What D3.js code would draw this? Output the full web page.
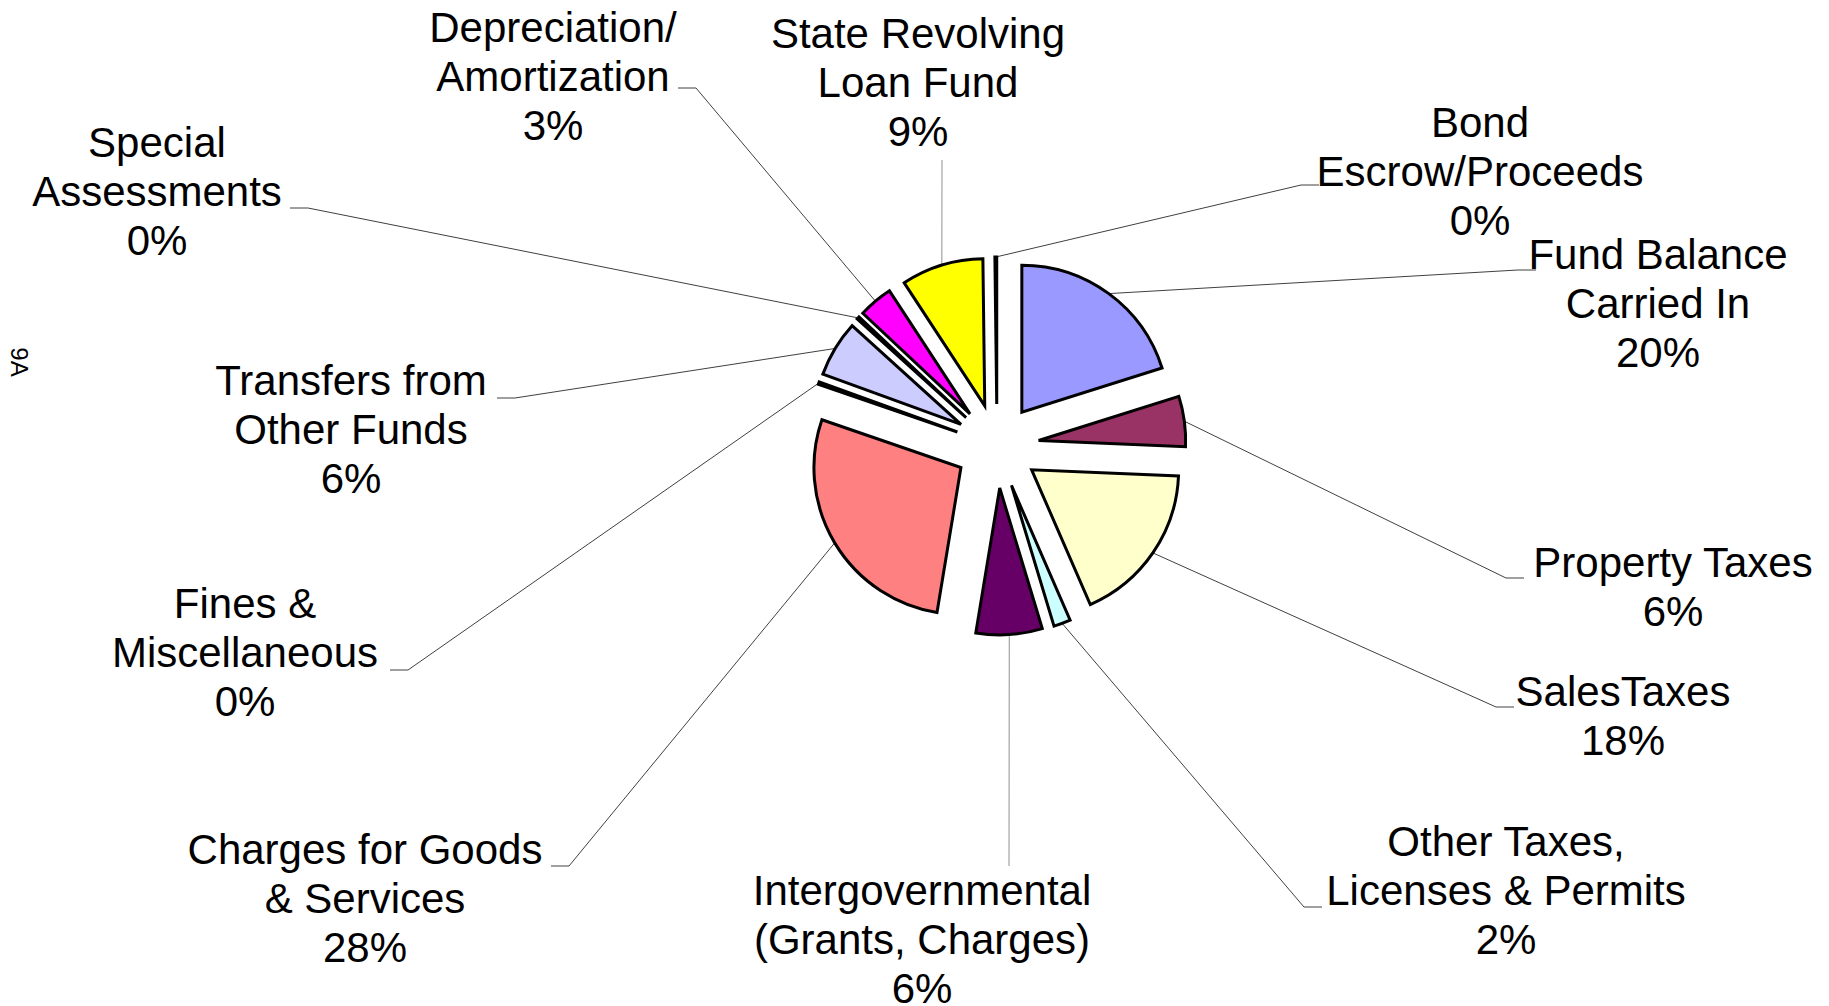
<!DOCTYPE html>
<html>
<head>
<meta charset="utf-8">
<script src="https://cdn.jsdelivr.net/npm/d3@7"></script>
<style>
  body { margin: 0; background: #fff; }
  svg  { display: block; }
  text { font-family: "Liberation Sans", Arial, sans-serif; fill: #000; }
</style>
</head>
<body>
<svg id="chart" width="1829" height="1006"></svg>
<script>
// ─── Data ─────────────────────────────────────
const categories = [
  ["Fund Balance", "Carried In"],
  ["Property Taxes"],
  ["SalesTaxes"],
  ["Other Taxes,", "Licenses & Permits"],
  ["Intergovernmental", "(Grants, Charges)"],
  ["Charges for Goods", "& Services"],
  ["Fines &", "Miscellaneous"],
  ["Transfers from", "Other Funds"],
  ["Special", "Assessments"],
  ["Depreciation/", "Amortization"],
  ["State Revolving", "Loan Fund"],
  ["Bond", "Escrow/Proceeds"]
];
// slice shares as drawn (percent of the pie)
const values    = [20.15, 5.53, 17.8, 1.86, 7.28, 27.67, 0.28, 6.17, 0.28, 3.78, 9.03, 0.2];
// percentages printed on the labels
const pctLabels = ["20%", "6%", "18%", "2%", "6%", "28%", "0%", "6%", "0%", "3%", "9%", "0%"];

// ─── Styles / layout ──────────────────────────
const colors = ["#9999FF", "#993366", "#FFFFCC", "#CCFFFF", "#660066", "#FF8080",
                "#0066CC", "#CCCCFF", "#000080", "#FF00FF", "#FFFF00", "#00FFFF"];

// label layout: [text x, first line centre y, leader x, leader y, stub length]
const labelLayout = [
  [1658, 254, 1536, 270, -18],
  [1673, 562, 1524, 578, -18],
  [1623, 691, 1514, 707, -18],
  [1506, 841, 1322, 907, -18],
  [ 922, 890, 1009, 866,   0],
  [ 365, 849,  551, 866,  18],
  [ 245, 603,  390, 670,  18],
  [ 351, 380,  497, 398,  18],
  [ 157, 142,  290, 208,  18],
  [ 553,  27,  678,  88,  18],
  [ 918,  33,  942, 160,   0],
  [1480, 122, 1319, 185, -18]
];

const cx = 997, cy = 446, R = 147, explode = 42;
const lineH = 49, fontSize = 42;

const svg = d3.select('#chart');

const pie = d3.pie().sort(null).value(d => d);
const arc = d3.arc().innerRadius(0).outerRadius(R);
const slices = pie(values);

const mid = d => (d.startAngle + d.endAngle) / 2;
const offset = d => [Math.sin(mid(d)) * explode, -Math.cos(mid(d)) * explode];

// ─── Leader lines ─────────────────────────────
const leaders = svg.append('g');
slices.forEach((d, i) => {
  const [ox, oy] = offset(d);
  const a = mid(d);
  const px = cx + ox + Math.sin(a) * R,
        py = cy + oy - Math.cos(a) * R;
  const [, , ax, ay, stub] = labelLayout[i];
  const p = d3.path();
  p.moveTo(ax, ay);
  if (stub) p.lineTo(ax + stub, ay);
  p.lineTo(px, py);
  leaders.append('path')
    .attr('d', p.toString())
    .attr('fill', 'none')
    .attr('stroke', stub ? '#404040' : '#909090')
    .attr('stroke-width', 1);
});

// ─── Slices ───────────────────────────────────
svg.append('g')
  .attr('transform', `translate(${cx},${cy})`)
  .selectAll('path')
  .data(slices)
  .enter().append('path')
    .attr('transform', d => `translate(${offset(d)})`)
    .attr('d', arc)
    .attr('fill', (d, i) => colors[i])
    .attr('stroke', '#000')
    .attr('stroke-width', 3)
    .attr('stroke-linejoin', 'miter');

// ─── Labels ───────────────────────────────────
const labels = svg.append('g')
  .attr('font-size', fontSize)
  .attr('text-anchor', 'middle');

categories.forEach((lines, i) => {
  const [tx, ty] = labelLayout[i];
  const t = labels.append('text');
  lines.concat([pctLabels[i]]).forEach((s, k) => {
    t.append('tspan')
      .attr('x', tx)
      .attr('y', ty + k * lineH + 15)
      .text(s);
  });
});

// ─── Side mark ────────────────────────────────
svg.append('text')
  .attr('transform', 'translate(11,362) rotate(90)')
  .attr('text-anchor', 'middle')
  .attr('font-size', 24)
  .text('9A');
</script>
</body>
</html>
